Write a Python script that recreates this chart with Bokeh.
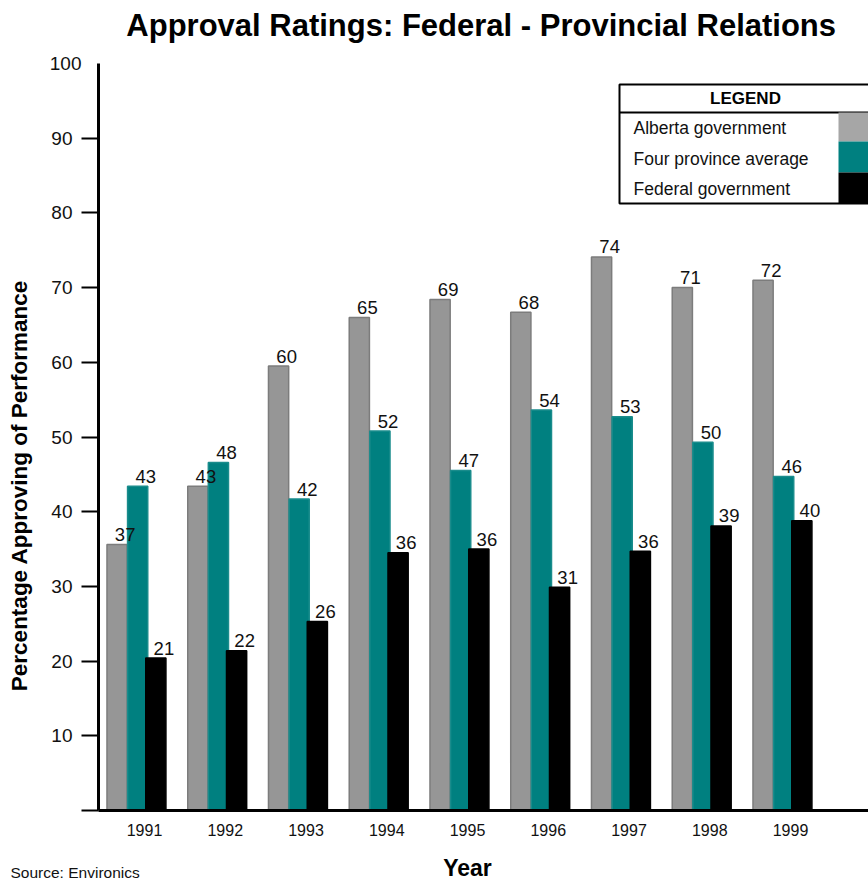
import math
import numpy as np
from bokeh.plotting import figure
from bokeh.models import Range1d, FixedTicker, Label, ColumnDataSource
from bokeh.core.properties import value
from bokeh.embed import file_html
from bokeh.resources import INLINE

# ---------------- data ----------------
years = ["1991", "1992", "1993", "1994", "1995", "1996", "1997", "1998", "1999"]
series_names = ["Alberta government", "Four province average", "Federal government"]

# bar heights as drawn in the reference
alberta = [35.6, 43.4, 59.5, 66.0, 68.4, 66.7, 74.1, 70.0, 71.0]
four_province = [43.4, 46.6, 41.7, 50.8, 45.5, 53.6, 52.7, 49.3, 44.7]
federal = [20.4, 21.4, 25.3, 34.5, 35.0, 29.9, 34.7, 38.1, 38.8]

# value labels printed above the bars
alberta_labels = [37, 43, 60, 65, 69, 68, 74, 71, 72]
four_province_labels = [43, 48, 42, 52, 47, 54, 53, 50, 46]
federal_labels = [21, 22, 26, 36, 36, 31, 36, 39, 40]

y_ticks = [0, 10, 20, 30, 40, 50, 60, 70, 80, 90]

# ---------------- layout helpers ----------------
W, H = 868, 882
FL, FT, FB = 98, 63, 810          # frame left / top / bottom (canvas px)
UX = 80.75                        # px per group
X0 = -0.47
X1 = X0 + (W - FL) / UX
UY = (FB - FT) / 100.0


def cx(px):
    return X0 + (px - FL) / UX


def cy(py):
    return (FB - py) / UY


FONT = "Liberation Sans"
GRAY = "#969696"
TEAL = "#008080"
BLACK = "#000000"

p = figure(width=W, height=H, x_range=Range1d(X0, X1), y_range=Range1d(0, 100),
           toolbar_location=None, output_backend="svg", title=None,
           min_border_left=FL, min_border_right=0, min_border_top=FT,
           min_border_bottom=H - FB)
p.outline_line_color = None
p.xgrid.visible = False
p.ygrid.visible = False
p.background_fill_color = "white"
p.border_fill_color = "white"

# y axis
p.yaxis.ticker = FixedTicker(ticks=y_ticks)
p.yaxis.major_label_overrides = {0: ""}
p.yaxis.major_tick_out = 17
p.yaxis.major_tick_in = 0
p.yaxis.minor_tick_out = 0
p.yaxis.minor_tick_in = 0
p.yaxis.major_tick_line_width = 2
p.yaxis.axis_line_width = 3
p.yaxis.major_label_standoff = 9
p.yaxis.major_label_text_font = FONT
p.yaxis.major_label_text_font_size = "19px"
p.yaxis.major_label_text_color = "#111111"

# x axis
idx = np.arange(len(years))
p.xaxis.ticker = FixedTicker(ticks=list(idx + 0.1))
p.xaxis.major_label_overrides = {float(i + 0.1): y for i, y in zip(idx, years)}
p.xaxis.major_tick_out = 0
p.xaxis.major_tick_in = 0
p.xaxis.minor_tick_out = 0
p.xaxis.minor_tick_in = 0
p.xaxis.axis_line_width = 3
p.xaxis.major_label_standoff = 13
p.xaxis.major_label_text_font = FONT
p.xaxis.major_label_text_font_size = "16px"
p.xaxis.major_label_text_color = "#111111"

# bars
BW = 0.25
offsets = [-0.24, 0.015, 0.24]
values = [alberta, four_province, federal]
labels = [alberta_labels, four_province_labels, federal_labels]
fills = [GRAY, TEAL, BLACK]
lines = ["#7c7c7c", "#1a8c8c", BLACK]
sources = []
for off, vals, labs, fc, lc in zip(offsets, values, labels, fills, lines):
    src = ColumnDataSource(dict(x=idx + off, top=vals,
                                tx=idx + off + 0.1,
                                txt=[str(v) for v in labs]))
    sources.append(src)
    p.vbar(x="x", top="top", bottom=0, width=BW, source=src,
           fill_color=fc, line_color=lc, line_width=1.5)
for src in sources:
    p.text(x="tx", y="top", text="txt", source=src, y_offset=-10,
           text_align="center", text_baseline="middle",
           text_font=value(FONT), text_font_size="18.5px", text_color="#111111")

# legend box
lx0, lx1 = cx(619), X1 + 0.3
ly_top, ly_head, ly_bot = cy(84), cy(112), cy(203)
p.quad(left=lx0, right=lx1, top=ly_top, bottom=ly_bot,
       fill_color="white", line_color="black", line_width=2)
p.segment(x0=lx0, x1=lx1, y0=ly_head, y1=ly_head, line_color="black", line_width=2)
row_edges = [cy(112), cy(141), cy(172), cy(203)]
sw_fills = ["#a6a6a6", TEAL, BLACK]
p.quad(left=[cx(838)] * 3, right=[lx1] * 3, top=row_edges[:3], bottom=row_edges[1:],
       fill_color=sw_fills, line_color=None)
p.text(x=[cx(745)], y=[cy(98)], text=["LEGEND"], text_align="center",
       text_baseline="middle", text_font=value(FONT), text_font_style="bold",
       text_font_size="17px", text_color="black")
p.text(x=[cx(633)] * 3, y=[cy(127), cy(158), cy(188)], text=series_names,
       text_align="left", text_baseline="middle", text_font=value(FONT),
       text_font_size="17.5px", text_color="#111111")

# texts outside the frame; each sits in a side panel that has room for its size
p.add_layout(Label(x=cx(485), y=cy(25), text="Approval Ratings:  Federal - Provincial Relations",
                   text_align="center", text_baseline="middle", text_font=FONT,
                   text_font_style="bold", text_font_size="31px", text_color="black"), "above")
p.add_layout(Label(x=cx(467), y=cy(867), text="Year", text_align="center",
                   text_baseline="middle", text_font=FONT, text_font_style="bold",
                   text_font_size="23px", text_color="black"), "above")
p.add_layout(Label(x=cx(81), y=100, text="100", text_align="right",
                   text_baseline="middle", text_font=FONT, text_font_size="19px",
                   text_color="#111111"), "below")
p.add_layout(Label(x=cx(10), y=cy(872), text="Source: Environics", text_align="left",
                   text_baseline="middle", text_font=FONT, text_font_size="15.5px",
                   text_color="#111111"), "below")
p.add_layout(Label(x=cx(19), y=cy(485), text="Percentage Approving of Performance",
                   angle=math.pi / 2, text_align="center", text_baseline="middle",
                   text_font=FONT, text_font_style="bold", text_font_size="22.5px",
                   text_color="black"), "left")

open("out.html", "w").write(file_html(p, INLINE))
